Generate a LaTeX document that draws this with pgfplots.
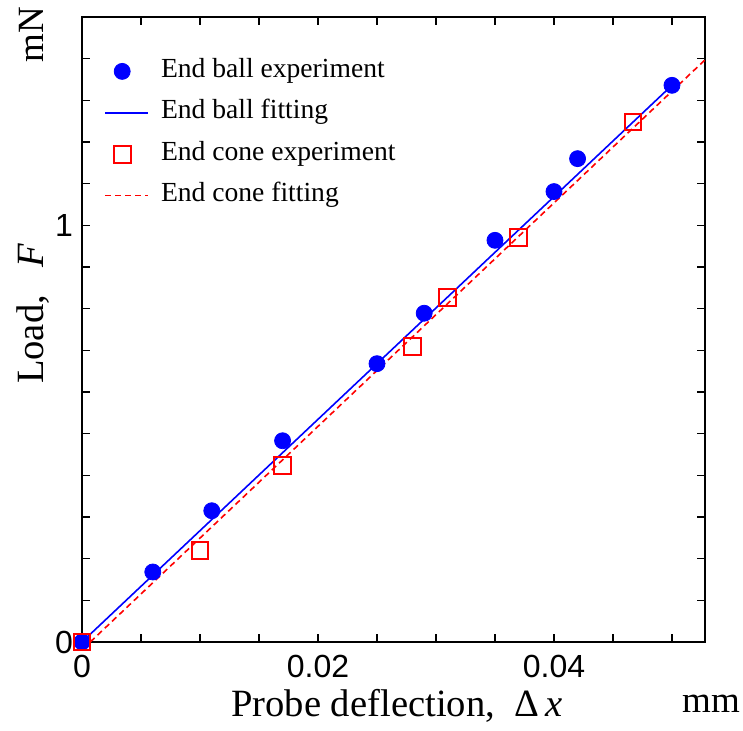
\documentclass[border=0pt]{standalone}
\usepackage{pgfplots}
\pgfplotsset{compat=1.18}
\usepackage{fontspec}
\setmainfont{Liberation Serif}
\newfontfamily\sansf{Liberation Sans}
\begin{document}
\begin{tikzpicture}
\path[use as bounding box] (-41pt,-44.5pt) rectangle (330.5pt,321pt);
\begin{axis}[
  name=ax, at={(0,0)}, anchor=south west,
  scale only axis, width=311.5pt, height=312.5pt,
  xmin=0, xmax=0.0528, ymin=0, ymax=1.5,
  clip=false, scaled x ticks=false, scaled y ticks=false,
  axis line style={line width=1pt},
  tick align=inside, major tick length=4pt,
  tick style={line width=0.8pt, black},
  xtick={0,0.005,...,0.0505},
  xticklabels={0,,,,0.02,,,,0.04,,},
  ytick={0,0.1,...,1.55},
  yticklabels={0,,,,,,,,,,1,,,,,},
  xticklabel style={font=\sansf\fontsize{16}{16}\selectfont, yshift=-3pt},
  yticklabel style={font=\sansf\fontsize{16}{16}\selectfont, xshift=-1pt},
  legend image code/.code={%
    \draw[white, line width=0.01pt] (0pt,0pt) -- (0.01pt,0pt);
    \draw[mark repeat=2,mark phase=2,#1] plot coordinates {(0pt,0pt) (8.5pt,0pt) (21.5pt,0pt)};},
  legend cell align=left,
  legend style={at={(0,1)}, anchor=north west, xshift=11pt, yshift=-21pt,
    draw=none, fill=none, inner sep=0pt, row sep=8.7pt, column sep=6pt,
    font=\fontsize{13.8}{15}\selectfont,
    nodes={inner sep=0pt, text height=9pt, text depth=3pt}},
]
\addplot[only marks, mark=*, mark size=4pt, color=blue]
  coordinates {(0,0) (0.006,0.168) (0.011,0.315) (0.017,0.483) (0.025,0.668)
  (0.029,0.789) (0.035,0.964) (0.040,1.081) (0.042,1.160) (0.050,1.336)};
\addlegendentry{End ball experiment}
\addplot[color=blue, line width=0.8pt, no marks]
  coordinates {(0,0) (0.050,1.336)};
\addlegendentry{End ball fitting}
\addplot[only marks, mark=square, mark size=4.2pt, color=red, line width=1pt]
  coordinates {(0,0) (0.010,0.219) (0.017,0.423) (0.028,0.709) (0.031,0.827)
  (0.037,0.971) (0.0467,1.248)};
\addlegendentry{End cone experiment}
\addplot[color=red, line width=0.8pt, dash pattern=on 3pt off 2pt, no marks]
  coordinates {(0.0007,0) (0.0528,1.397)};
\addlegendentry{End cone fitting}
\end{axis}
\node[font=\fontsize{19.3}{21}\selectfont, anchor=base] at (157.5pt,-37.5pt) {Probe deflection,\hspace{0.5em}Δ\,\textit{x}};
\node[font=\fontsize{18.5}{20}\selectfont, anchor=base] at (314.5pt,-35.5pt) {mm};
\node[font=\fontsize{19.3}{21}\selectfont, rotate=90, anchor=base] at (-19.5pt,164pt) {Load,\hspace{0.7em}\textit{F}};
\node[font=\fontsize{18.5}{20}\selectfont, rotate=90, anchor=base] at (-19.5pt,303.5pt) {mN};
\end{tikzpicture}
\end{document}
